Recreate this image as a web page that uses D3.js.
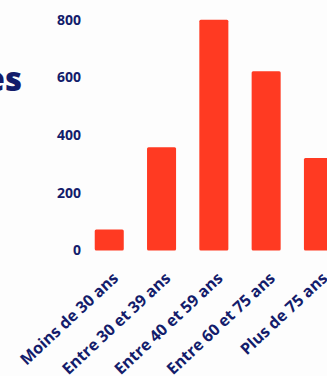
<!DOCTYPE html>
<html><head><meta charset="utf-8">
<script src="https://cdn.jsdelivr.net/npm/d3@7"></script>
<style>
html,body{margin:0;padding:0;background:#fdfdfd;overflow:hidden;}
svg{display:block;font-family:"Open Sans",sans-serif;}
</style></head>
<body>
<script>
const categories = ["Moins de 30 ans","Entre 30 et 39 ans","Entre 40 et 59 ans","Entre 60 et 75 ans","Plus de 75 ans"];
const values = [73, 358, 800, 621, 321];
const yTicks = [0, 200, 400, 600, 800];
const titleText = "es";

const W = 327, H = 376;
const navy = "#131c6b", red = "#ff3a22";
const svg = d3.select("body").append("svg").attr("width", W).attr("height", H);

const x = d3.scaleBand().domain(categories).range([83.1, 344.6]).paddingInner(0.445).paddingOuter(0.2225);
const y = d3.scaleLinear().domain([0, 800]).range([250.5, 19.7]);

svg.append("text").attr("x", 22).attr("y", 91).attr("text-anchor", "end")
  .attr("fill", navy).attr("font-size", 33).attr("font-weight", 800).text(titleText);

const yAxis = svg.append("g").attr("transform", "translate(88,0)")
  .call(d3.axisLeft(y).tickValues(yTicks).tickSize(0).tickPadding(7).tickFormat(d3.format("d")));
yAxis.select(".domain").remove();
yAxis.selectAll("text").attr("fill", navy).attr("font-size", 14).attr("font-weight", 700)
  .attr("font-family", "Open Sans, sans-serif");

svg.append("g").selectAll("rect").data(values).join("rect")
  .attr("x", (d, i) => x(categories[i]))
  .attr("y", d => y(d))
  .attr("width", x.bandwidth())
  .attr("height", d => y(0) - y(d))
  .attr("rx", 1.5)
  .attr("fill", red);

const xAxis = svg.append("g").attr("transform", `translate(0,${y(0)})`)
  .call(d3.axisBottom(x).tickSize(0).tickPadding(0));
xAxis.select(".domain").remove();
xAxis.selectAll("text")
  .attr("fill", navy).attr("font-size", 16).attr("font-weight", 700)
  .attr("font-family", "Open Sans, sans-serif")
  .attr("text-anchor", "end").attr("dy", null).attr("y", 0)
  .attr("transform", "translate(10,29) rotate(-43)");
</script>
</body></html>
